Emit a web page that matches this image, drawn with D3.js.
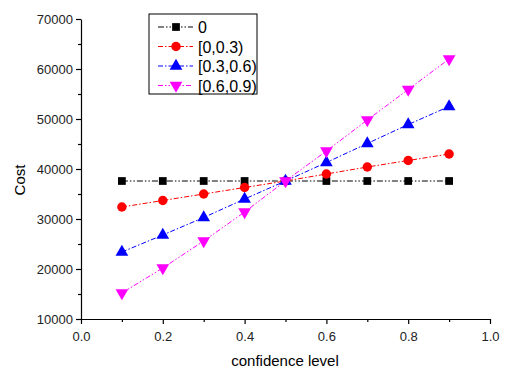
<!DOCTYPE html>
<html><head><meta charset="utf-8">
<script src="https://cdn.jsdelivr.net/npm/d3@7"></script>
<style>body{margin:0;background:#fff}text{font-family:"Liberation Sans",Arial,sans-serif}</style>
</head><body><svg id="c" width="512" height="381"></svg>
<script>
const xs = [0.1,0.2,0.3,0.4,0.5,0.6,0.7,0.8,0.9];
const seriesNames = ["0","[0,0.3)","[0.3,0.6)","[0.6,0.9)"];
const s0 = [37600,37600,37600,37600,37600,37600,37600,37600,37600];
const s1 = [32400,33700,35000,36300,37600,39000,40400,41700,43000];
const s2 = [23400,26800,30300,34000,37600,41300,45100,48900,52500];
const s3 = [15200,20200,25600,31400,37600,43600,49800,55900,62000];
const xTicks = [0,0.2,0.4,0.6,0.8,1.0];
const yTicks = [10000,20000,30000,40000,50000,60000,70000];

const colors = ["#000000","#ff0000","#0000ff","#ff00ff"];
const shapes = [d3.symbolSquare,d3.symbolCircle,d3.symbolTriangle,"down"];
const dashes = ["6,2,1.5,2,1.5,2","5,2,1.5,2","5,2,1.5,2","5,2,1.5,2,1.5,2"];
const data = [s0,s1,s2,s3];

const svg = d3.select("#c");
const x = d3.scaleLinear().domain([0,1]).range([81,490]);
const y = d3.scaleLinear().domain([10000,70000]).range([319,19]);

const gx = svg.append("g").attr("transform","translate(0,319)")
  .call(d3.axisBottom(x).tickValues(xTicks).tickFormat(d3.format(".1f")).tickSize(5).tickSizeOuter(0));
svg.append("g").attr("transform","translate(0,319)")
  .call(d3.axisBottom(x).tickValues(d3.range(0.1,1,0.2)).tickFormat("").tickSize(3).tickSizeOuter(0))
  .select(".domain").remove();
const gy = svg.append("g").attr("transform","translate(81,0)")
  .call(d3.axisLeft(y).tickValues(yTicks).tickFormat(d3.format("d")).tickSize(5).tickSizeOuter(0));
svg.append("g").attr("transform","translate(81,0)")
  .call(d3.axisLeft(y).tickValues(d3.range(15000,70000,10000)).tickFormat("").tickSize(3).tickSizeOuter(0))
  .select(".domain").remove();
svg.selectAll(".tick text").attr("font-size",13).attr("font-family","Liberation Sans, Arial, sans-serif").attr("fill","#222");
gx.selectAll(".tick text").attr("dy","1.05em");
svg.selectAll(".domain,.tick line").attr("stroke","#000").attr("stroke-width",1.2);

svg.append("text").attr("x",285).attr("y",366).attr("text-anchor","middle").attr("font-size",15).text("confidence level");
svg.append("text").attr("transform","translate(25,180) rotate(-90)").attr("text-anchor","middle").attr("font-size",15).text("Cost");

function sym(i, size){
  if (shapes[i]==="down") return d3.symbol().type(d3.symbolTriangle).size(size)();
  return d3.symbol().type(shapes[i]).size(size)();
}
const sizes = [60,70,70,70];
const line = d3.line().x((d,j)=>x(xs[j])).y(d=>y(d));
data.forEach((s,i)=>{
  svg.append("path").datum(s).attr("d",line).attr("fill","none").attr("stroke",colors[i])
    .attr("stroke-width",1).attr("stroke-dasharray",dashes[i]);
});
data.forEach((s,i)=>{
  svg.append("g").selectAll("path").data(s).join("path")
    .attr("d",sym(i,sizes[i]))
    .attr("transform",(d,j)=>`translate(${x(xs[j])},${y(d)})${shapes[i]==="down"?" rotate(180)":""}`)
    .attr("fill",colors[i]);
});

// legend
const lg = svg.append("g");
lg.append("rect").attr("x",149).attr("y",14).attr("width",108).attr("height",80).attr("fill","#fff").attr("stroke","#000").attr("stroke-width",1);
seriesNames.forEach((n,i)=>{
  const ly = 27 + i*19.5;
  lg.append("line").attr("x1",158).attr("x2",193).attr("y1",ly).attr("y2",ly)
    .attr("stroke",colors[i]).attr("stroke-dasharray",dashes[i]);
  lg.append("path").attr("d",sym(i,sizes[i]))
    .attr("transform",`translate(176,${ly})${shapes[i]==="down"?" rotate(180)":""}`).attr("fill",colors[i]);
  lg.append("text").attr("x",198).attr("y",ly+6).attr("font-size",16).text(n);
});
</script></body></html>
